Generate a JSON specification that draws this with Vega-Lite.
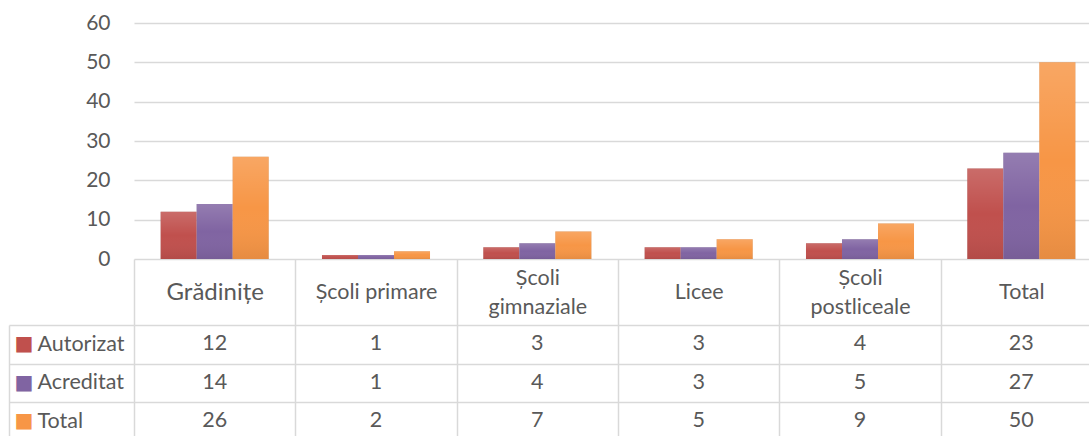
{
  "$schema": "https://vega.github.io/schema/vega-lite/v6.json",
  "padding": {"left": 8, "top": 12, "right": 0, "bottom": 0},
  "background": "white",
  "spacing": 66,
  "bounds": "flush",
  "config": {"view": {"stroke": null}, "font": "Lato", "axis": {"labelFont": "Lato"}},
  "datasets": {
    "d": [
      {"cat": "Grădinițe", "series": "Autorizat", "value": 12},
      {"cat": "Grădinițe", "series": "Acreditat", "value": 14},
      {"cat": "Grădinițe", "series": "Total", "value": 26},
      {"cat": "Școli primare", "series": "Autorizat", "value": 1},
      {"cat": "Școli primare", "series": "Acreditat", "value": 1},
      {"cat": "Școli primare", "series": "Total", "value": 2},
      {"cat": "Școli gimnaziale", "series": "Autorizat", "value": 3},
      {"cat": "Școli gimnaziale", "series": "Acreditat", "value": 4},
      {"cat": "Școli gimnaziale", "series": "Total", "value": 7},
      {"cat": "Licee", "series": "Autorizat", "value": 3},
      {"cat": "Licee", "series": "Acreditat", "value": 3},
      {"cat": "Licee", "series": "Total", "value": 5},
      {"cat": "Școli postliceale", "series": "Autorizat", "value": 4},
      {"cat": "Școli postliceale", "series": "Acreditat", "value": 5},
      {"cat": "Școli postliceale", "series": "Total", "value": 9},
      {"cat": "Total", "series": "Autorizat", "value": 23},
      {"cat": "Total", "series": "Acreditat", "value": 27},
      {"cat": "Total", "series": "Total", "value": 50}
    ]
  },
  "vconcat": [
    {
      "width": 968,
      "height": 236,
      "data": {"name": "d"},
      "encoding": {
        "x": {
          "field": "cat", "type": "nominal",
          "sort": ["Grădinițe", "Școli primare", "Școli gimnaziale", "Licee", "Școli postliceale", "Total"],
          "scale": {"paddingInner": 0, "paddingOuter": 0},
          "axis": {
            "title": null, "orient": "bottom", "domain": false,
            "ticks": true, "tickBand": "extent", "tickSize": 66, "tickColor": "#d9d9d9", "tickWidth": 1.5,
            "labelAngle": 0, "labelBaseline": "middle", "labelAlign": "center",
            "labelColor": "#595959", "labelLineHeight": 29,
            "labelPadding": {"condition": {"test": "datum.value == 'Școli gimnaziale' || datum.value == 'Școli postliceale'", "value": -47}, "value": -33},
            "labelFontSize": {"condition": {"test": "datum.value == 'Grădinițe'", "value": 24}, "value": 21.5},
            "labelExpr": "(datum.value == 'Școli gimnaziale' || datum.value == 'Școli postliceale') ? split(datum.value, ' ') : datum.value"
          }
        },
        "xOffset": {
          "field": "series", "type": "nominal",
          "sort": ["Autorizat", "Acreditat", "Total"],
          "scale": {"domain": ["Autorizat", "Acreditat", "Total"], "paddingInner": 0, "paddingOuter": 0.74}
        },
        "y": {
          "field": "value", "type": "quantitative",
          "scale": {"domain": [0, 60]},
          "axis": {
            "title": null, "values": [0, 10, 20, 30, 40, 50, 60],
            "grid": true, "gridColor": "#d9d9d9", "gridWidth": 1.5,
            "domain": false, "ticks": false, "labelPadding": 24,
            "labelFontSize": 21, "labelColor": "#595959", "minExtent": 125
          }
        }
      },
      "layer": [
        {"mark": {"type": "bar", "color": "#000000", "opacity": 0.05, "xOffset": 5}},
        {"mark": {"type": "bar", "color": "#000000", "opacity": 0.07, "xOffset": 3}},
        {"mark": {"type": "bar", "color": "#000000", "opacity": 0.08, "xOffset": 1.5}},
        {
          "mark": {"type": "bar"},
          "encoding": {
            "color": {
              "field": "series", "type": "nominal",
              "scale": {"domain": ["Autorizat", "Acreditat", "Total"], "range": ["#C0504D", "#8064A2", "#F79646"]},
              "legend": null
            }
          }
        },
        {
          "mark": {
            "type": "bar",
            "color": {
              "gradient": "linear", "x1": 0, "y1": 0, "x2": 0, "y2": 1,
              "stops": [
                {"offset": 0, "color": "rgba(255,255,255,0.16)"},
                {"offset": 0.5, "color": "rgba(255,255,255,0.0)"},
                {"offset": 1, "color": "rgba(0,0,0,0.07)"}
              ]
            }
          }
        }
      ]
    },
    {
      "width": 968,
      "height": {"step": 38.5},
      "data": {"name": "d"},
      "encoding": {
        "x": {
          "field": "cat", "type": "nominal",
          "sort": ["Grădinițe", "Școli primare", "Școli gimnaziale", "Licee", "Școli postliceale", "Total"],
          "scale": {"paddingInner": 0, "paddingOuter": 0},
          "axis": {
            "title": null, "labels": false, "ticks": false, "domain": false,
            "grid": true, "tickBand": "extent", "gridColor": "#d9d9d9", "gridWidth": 1.5
          }
        }
      },
      "layer": [
        {
          "mark": {"type": "text", "fontSize": 21.5, "color": "#595959", "font": "Lato"},
          "encoding": {
            "text": {"field": "value", "type": "quantitative"},
            "y": {
              "field": "series", "type": "nominal",
              "sort": ["Autorizat", "Acreditat", "Total"],
              "scale": {"paddingInner": 0, "paddingOuter": 0},
              "axis": {
                "title": null, "orient": "left", "domain": false,
                "ticks": true, "tickBand": "extent", "tickSize": 125, "tickColor": "#d9d9d9", "tickWidth": 1.5,
                "grid": true, "gridColor": "#d9d9d9", "gridWidth": 1.5,
                "labelAlign": "left", "labelPadding": -28, "labelBaseline": "middle",
                "labelFontSize": 21.5, "labelColor": "#595959"
              }
            }
          }
        },
        {
          "mark": {"type": "text", "text": ""},
          "encoding": {
            "y": {
              "field": "series", "type": "nominal",
              "sort": ["Autorizat", "Acreditat", "Total"],
              "scale": {"paddingInner": 0, "paddingOuter": 0},
              "axis": {
                "title": null, "orient": "left", "offset": 125,
                "domain": true, "domainColor": "#d9d9d9", "domainWidth": 1.5,
                "ticks": false, "grid": false,
                "labelExpr": "'■'", "labelFont": "DejaVu Sans", "labelFontSize": 20,
                "labelAlign": "left", "labelPadding": -5, "labelBaseline": "middle",
                "labelColor": {"condition": [
                  {"test": "datum.value == 'Autorizat'", "value": "#C0504D"},
                  {"test": "datum.value == 'Acreditat'", "value": "#8064A2"}
                ], "value": "#F79646"}
              }
            }
          }
        }
      ],
      "resolve": {"axis": {"y": "independent"}}
    }
  ]
}
